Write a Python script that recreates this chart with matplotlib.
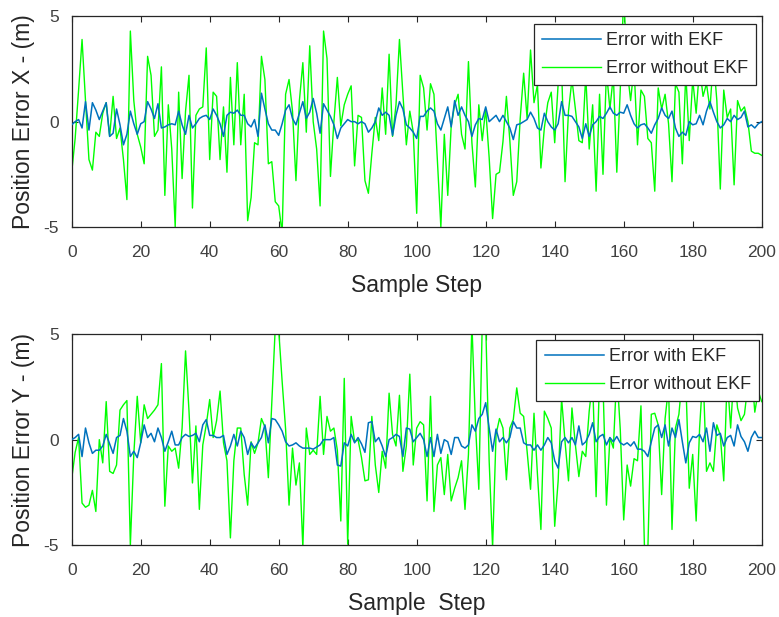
import numpy as np
import matplotlib
matplotlib.use("Agg")
import matplotlib.pyplot as plt

plt.rcParams['font.family'] = ['Liberation Sans', 'DejaVu Sans']
plt.rcParams['axes.unicode_minus'] = False

# Position error along X (m) per sample step
err_x_ekf = [
    -0.15, 0.0, 0.1, -0.3, 0.95, -0.4, 0.9, 0.55, 0.1, 0.5,
    0.9, -0.7, -0.55, 0.6, -0.15, -1.1, -0.6, 0.5, -0.1, -0.6,
    -0.1, 0.0, 0.95, 0.6, 0.15, 0.85, -0.3, -0.25, -0.15, -0.1,
    -0.15, 0.5, -0.15, -0.6, 0.3, -0.3, -0.1, 0.15, 0.25, 0.3,
    0.1, 0.6, 0.3, -0.1, -0.7, 0.3, 0.45, 0.4, 0.55, 0.3,
    0.3, -0.1, -0.25, 0.1, -0.7, 1.35, 0.6, -0.1, -0.4, -0.4,
    -0.65, -0.1, 0.55, 0.8, 0.15, -0.15, 0.4, 0.95, 0.15, 0.45,
    1.1, 0.4, -0.55, 0.85, 0.55, 0.25, -0.15, -0.8, -0.3, -0.1,
    0.1, 0.0, 0.0, -0.1, 0.0, -0.1, -0.5, -0.3, 0.0, 0.65,
    0.3, 0.45, 0.3, -0.65, 0.3, 0.95, 0.6, -0.15, -0.3, -0.5,
    -0.8, 0.25, 0.25, 0.5, 0.65, 0.5, -0.1, -0.4, 0.15, 0.7,
    -0.25, 1.0, 0.3, 0.7, 0.3, 0.0, -0.7, -0.15, 0.15, 0.1,
    0.7, 0.0, 0.15, 0.3, 0.0, 0.3, 0.0, -0.3, -0.85, -0.15,
    -0.1, 0.0, 0.1, 0.45, 0.15, -0.3, -0.4, 0.4, 0.0, -0.25,
    -0.4, -0.1, 0.95, 0.3, 0.3, 0.25, 0.0, -0.25, -0.8, -0.1,
    -0.7, -0.15, 0.0, 0.25, 0.15, 0.4, 0.7, 0.4, 0.3, 0.45,
    0.4, 0.8, 0.3, -0.1, -0.3, -0.15, -0.1, -0.3, -0.55, -0.15,
    0.15, 0.65, 0.3, 0.15, 0.5, -0.3, -0.7, -0.5, -0.65, 0.0,
    -0.15, -0.1, 0.3, -0.15, 0.5, 0.95, 0.45, 0.0, -0.3, -0.15,
    0.15, 0.0, 0.3, 0.1, 0.2, 0.5, -0.25, -0.15, -0.3, -0.1,
    0.0,
]

err_x_raw = [
    -2.4, -0.8, 1.5, 3.9, 1.0, -1.8, -2.3, -0.5, -0.7, 0.4,
    0.9, -0.7, 1.2, -0.8, -0.3, -1.8, -3.7, 4.3, 1.0, -0.6,
    -1.2, -2.0, 3.1, 2.2, -0.7, -0.4, 2.6, -3.5, 0.8, -1.3,
    -5.0, 1.4, -2.7, 0.5, 2.2, -4.1, 0.3, 0.6, 0.7, 3.5,
    -1.8, 1.4, 1.2, -1.8, 0.7, -2.4, 2.1, -1.1, 2.8, -1.1,
    1.3, -4.7, -3.6, -1.0, -1.1, 3.1, 2.0, -2.0, -1.9, -3.8,
    -4.0, -5.3, 1.3, 2.0, 0.5, -2.8, 1.0, 2.8, -0.5, 3.6,
    0.0, -1.3, -4.0, 4.3, 3.0, -2.6, 0.0, 2.1, -0.2, 0.8,
    1.3, 1.7, -2.1, 0.3, 0.2, -2.8, -3.4, -1.5, 0.2, -0.9,
    1.6, -0.6, 3.2, -0.7, 0.8, 3.9, 1.3, -1.1, 0.5, -0.5,
    -4.35, 2.2, 1.6, -0.4, 1.8, 1.3, -1.9, -5.0, -0.6, -3.5,
    -0.2, 0.8, 1.3, -0.6, -1.3, 2.85, -1.0, -3.1, 0.8, -0.9,
    0.6, -1.7, -4.6, -2.5, -2.4, -0.95, 1.2, -0.9, -3.5, -2.85,
    0.15, 2.3, 0.15, 3.4, 0.9, 1.75, -2.2, -0.3, 0.9, 1.4,
    -1.0, 1.8, 2.5, -2.85, 0.5, 2.0, 0.6, -0.9, -1.0, 2.2,
    -1.3, 0.8, -3.3, 1.3, -2.5, 2.4, 0.6, 2.2, -2.4, 1.5,
    6.0, 2.5, 1.0, 2.6, -1.1, 1.5, 1.2, -0.8, -1.0, -3.3,
    1.6, 0.6, 1.3, -0.1, -2.85, 1.8, 1.4, -2.0, 2.3, -0.9,
    2.0, 0.4, 2.6, 1.2, 1.8, 0.6, 3.0, 1.0, -3.2, 1.5,
    0.2, 0.6, -3.0, 1.0, 0.5, 0.7, 0.0, -1.4, -1.5, -1.5,
    -1.6,
]

# Position error along Y (m) per sample step
err_y_ekf = [
    0.0, 0.1, 0.25, -0.8, 0.55, -0.15, -0.65, -0.5, -0.5, -0.3,
    0.25, -0.2, -0.65, 0.1, 0.2, 1.0, 0.4, -0.8, -0.55, -0.85,
    -0.15, 0.7, 0.1, 0.3, -0.1, 0.55, 0.1, -0.55, -0.1, 0.4,
    -0.25, -0.25, 0.1, 0.25, 0.15, 0.2, 0.3, -0.1, 0.7, 0.95,
    0.2, 0.2, 0.1, 0.1, 0.2, -0.7, -0.3, 0.25, -0.3, 0.4,
    0.1, -0.7, -0.15, -0.4, -0.15, 0.1, 0.7, -0.15, 1.0, 0.95,
    0.7, 0.4, -0.1, -0.3, -0.25, -0.15, -0.3, -0.4, -0.4, -0.4,
    -0.45, -0.35, -0.25, 0.0, 0.0, 0.0, 0.1, -1.2, -1.25, -0.15,
    -0.3, 0.25, -0.15, 0.1, -0.2, -0.6, 0.8, 0.85, -0.1, 0.1,
    -0.3, -0.8, 0.0, 0.1, 0.25, 0.15, -0.8, 0.55, 0.5, -0.1,
    0.1, 0.3, 0.0, -0.8, 0.1, -0.8, 0.25, -0.65, 0.0, -0.1,
    -0.7, 0.1, 0.1, -0.3, -0.4, -0.25, 0.7, 0.4, 1.0, 1.2,
    1.75, 0.55, -0.55, 0.5, -0.1, 0.1, -0.15, 0.1, 0.85, 0.55,
    0.55, -0.15, -0.25, -0.25, -0.5, -0.25, -0.5, -0.25, 0.1, -0.15,
    -1.0, -1.35, -0.1, 0.1, -0.15, 0.1, -0.25, 0.65, -0.25, -0.1,
    0.25, 0.8, -0.1, 0.15, 0.25, -0.25, 0.1, -0.1, 0.15, -0.15,
    -0.25, -0.15, -0.3, -0.1, -0.45, -0.45, -0.55, -0.8, -0.1, 0.55,
    0.7, 0.1, 0.7, -0.3, 0.55, 0.1, 0.95, -0.1, -1.1, -0.15,
    0.15, 0.1, 0.25, -0.1, 0.55, -0.55, 0.8, 0.2, 0.3, -0.3,
    0.1, 0.2, -0.3, 0.7, 0.15, -0.1, -0.55, 0.1, 0.4, 0.1,
    0.1,
]

err_y_raw = [
    -1.85, -0.6, 0.1, -3.0, -3.2, -3.1, -2.4, -3.4, 0.0, -1.1,
    1.8, -1.5, -1.6, -1.2, 1.4, 1.65, 1.85, -5.0, -0.7, 2.05,
    -0.15, 1.65, 1.0, 1.2, 1.4, 1.65, 3.6, -3.15, -0.3, -0.55,
    -0.4, -1.35, 0.55, 4.2, 1.35, -2.05, 0.65, -3.3, -0.25, 0.7,
    1.9, 0.1, 0.9, 2.3, -0.15, -1.0, -4.65, -1.0, 0.55, 0.55,
    -1.65, -3.1, -0.1, -0.65, -0.15, 1.0, 0.6, -1.8, 1.8, 5.3,
    5.2, 2.75, 0.5, -3.1, -0.4, -2.15, -1.1, -5.1, 0.55, -0.7,
    -0.5, -0.7, 2.05, -0.7, 1.1, 0.4, 0.55, -0.5, -3.85, 2.9,
    -4.95, 1.1, -0.1, 0.0, -0.85, -1.95, -1.9, 1.1, -1.2, -2.5,
    -0.55, -1.35, 2.2, 0.25, -0.3, 2.1, -1.5, -0.3, 3.1, -1.2,
    0.55, 0.85, 0.7, -2.9, 2.05, -3.4, -1.2, -0.85, -2.6, -0.7,
    -2.9, -2.3, -1.8, -1.0, -3.3, -0.7, 5.5, 0.85, -2.35, 5.5,
    5.5, -1.0, -5.1, 0.25, 1.0, 0.55, -1.9, 0.55, 0.95, 2.45,
    1.25, 1.1, -0.55, -2.35, 1.25, -1.65, -4.25, 1.35, 1.0, 0.55,
    -4.1, -1.95, 1.95, -0.1, -1.95, 1.5, -0.25, -1.75, -0.55, -0.8,
    1.35, 2.8, -2.7, 3.0, 2.6, -3.1, 0.1, -0.4, 3.2, 0.5,
    -3.8, -1.2, -2.2, -0.9, -1.0, 1.6, -5.0, -5.2, 1.2, 1.25,
    0.7, -2.6, 1.0, 2.5, -4.25, 0.55, 1.2, 3.0, 2.8, -2.3,
    -0.7, -3.85, 0.55, 3.2, -1.5, -1.1, -1.5, 0.7, 0.2, -1.95,
    3.0, 0.55, 3.3, 1.5, 0.9, 1.2, 2.6, 3.4, 1.3, 2.3,
    1.8,
]

x_ticks = list(range(0, 201, 20))
y_ticks = [-5, 0, 5]
series_labels = ['Error with EKF', 'Error without EKF']
blue = '#0072BD'
green = '#00FF00'
axis_color = '#262626'

W, H = 779, 617
fig = plt.figure(figsize=(W / 100, H / 100), dpi=100)
fig.patch.set_facecolor('white')

def frac_rect(left, top, right, bottom):
    return [left / W, 1 - bottom / H, (right - left) / W, (bottom - top) / H]

panels = [
    (frac_rect(71.7, 16.3, 761.7, 227.0), err_x_ekf, err_x_raw,
     'Position Error X - (m)', 'Sample Step', (0.992, 0.963)),
    (frac_rect(71.7, 334.0, 761.7, 545.3), err_y_ekf, err_y_raw,
     'Position Error Y - (m)', 'Sample  Step', (0.996, 0.970)),
]

for rect, ekf, raw, ylab, xlab, anchor in panels:
    ax = fig.add_axes(rect)
    ax.plot(np.arange(len(ekf)), ekf, color=blue, lw=1.1, label=series_labels[0], zorder=3)
    ax.plot(np.arange(len(raw)), raw, color=green, lw=1.0, label=series_labels[1], zorder=2)
    ax.set_xlim(0, 200)
    ax.set_ylim(-5, 5)
    ax.set_xticks(x_ticks)
    ax.set_yticks(y_ticks)
    ax.tick_params(direction='in', length=4.5, width=0.8, colors=axis_color,
                   labelsize=12.5, top=True, right=True)
    ax.tick_params(axis='x', pad=13)
    ax.tick_params(axis='y', pad=9)
    for lbl in ax.get_xticklabels() + ax.get_yticklabels():
        lbl.set_color('#404040')
    for sp in ax.spines.values():
        sp.set_color(axis_color)
        sp.set_linewidth(0.9)
    ax.set_ylabel(ylab, fontsize=16.5, color=axis_color, labelpad=6)
    ax.set_xlabel(xlab, fontsize=16.5, color=axis_color, labelpad=10)
    leg = ax.legend(loc='upper right', bbox_to_anchor=anchor, borderaxespad=0,
                    fontsize=13, frameon=True, fancybox=False, framealpha=1,
                    edgecolor=axis_color, handlelength=3.3, handletextpad=0.25,
                    labelspacing=0.6, borderpad=0.45)
    leg.get_frame().set_linewidth(0.9)
    for t in leg.get_texts():
        t.set_color(axis_color)

fig.savefig('out.png', dpi=100, facecolor='white')
